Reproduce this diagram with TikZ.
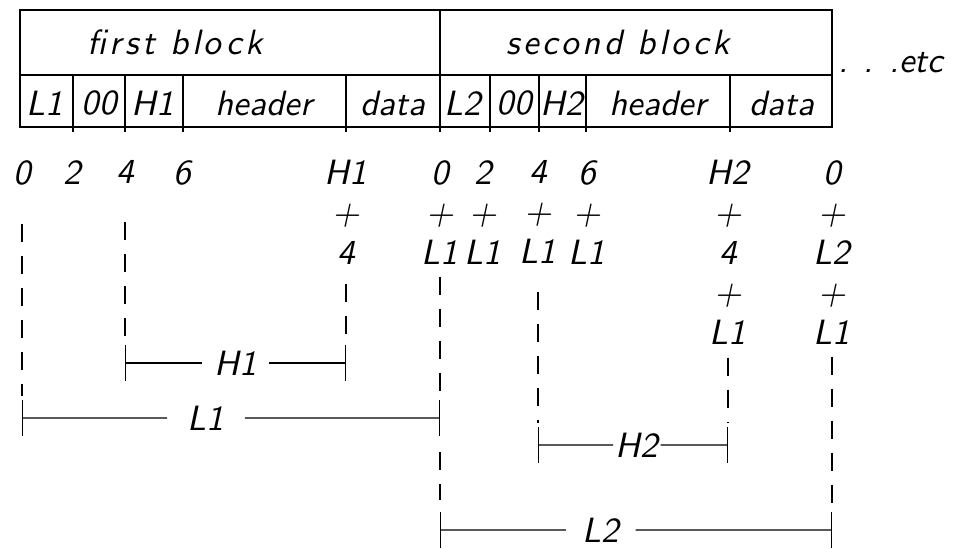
\documentclass[tikz,border=0pt]{standalone}
\usepackage{fontspec}
\usetikzlibrary{arrows.meta,calc}
\newfontfamily\cadfont{lmsans10-oblique.otf}
\newfontfamily\cadwide{lmsans10-oblique.otf}[LetterSpace=10]
\tikzset{
  lbl/.style={font=\fontsize{25}{28.45}\cadfont, inner sep=0pt},
  title/.style={lbl, font=\fontsize{25}{28.45}\cadwide},
  stack/.style={lbl, align=center, anchor=north},
  ext/.style={dash pattern=on 0.45cm off 0.35cm},
  dim/.style={{Bar[width=0.9cm]}-},
}
\begin{document}
\begin{tikzpicture}[line width=0.8pt]
    \useasboundingbox (0,0) rectangle (24.175,-13.7);
    \draw (0.5,-0.25) rectangle (20.8,-3.175);
    \draw (0.5,-1.875) -- (20.8,-1.875);
    \draw (11,-0.25) -- (11,-3.3);
    \foreach \x in {1.825,3.125,4.575,8.65,12.25,13.475,14.65,18.25}
        \draw (\x,-1.875) -- (\x,-3.3);
    \node[title] (blk1) at (4.375,-1.05) {first block};
    \node[title] (blk2) at (15.45,-1.05) {second block};
    \foreach \x/\name/\txt in {1.125/len1/L1, 2.475/pad1/00, 3.825/hdr1/H1, 6.6/head1/header, 9.825/data1/data,
                               11.575/len2/L2, 12.85/pad2/00, 14.05/hdr2/H2, 16.45/head2/header, 19.55/data2/data}
        \node[lbl] (\name) at (\x,-2.575) {\txt};
    \node[lbl, anchor=west] (etc) at (20.95,-1.575) {. . .etc};
    \foreach \x/\name/\txt in {0.55/p0/0, 1.8/p2/2, 3.125/p4/4, 4.55/p6/6, 8.65/pH1/{H1\\+\\4},
                               11/q0/{0\\+\\L1}, 12.075/q2/{2\\+\\L1}, 13.45/q4/{4\\+\\L1}, 14.675/q6/{6\\+\\L1},
                               18.2/qH2/{H2\\+\\4\\+\\L1}, 20.8/r0/{0\\+\\L2\\+\\L1}}
        \node[stack] (\name) at (\x,-4.0) {\txt};
    \coordinate (h1l) at (p4 |- 0,-9.075);
    \coordinate (h1r) at (pH1 |- 0,-9.075);
    \coordinate (l1l) at (p0 |- 0,-10.45);
    \coordinate (l1r) at (q0 |- 0,-10.45);
    \coordinate (h2l) at (q4 |- 0,-11.125);
    \coordinate (h2r) at (qH2 |- 0,-11.125);
    \coordinate (l2l) at (q0 |- 0,-13.25);
    \coordinate (l2r) at (r0 |- 0,-13.25);
    \node[lbl, inner xsep=.3cm] (dH1) at ($(h1l)!.5!(h1r)$) {H1};
    \node[lbl, inner xsep=.5cm] (dL1) at ($(l1l)!.44!(l1r)$) {L1};
    \node[lbl, inner xsep=.05cm] (dH2) at ($(h2l)!.52!(h2r)$) {H2};
    \node[lbl, inner xsep=.4cm] (dL2) at ($(l2l)!.41!(l2r)$) {L2};
    \foreach \a/\b/\m in {h1l/h1r/dH1, l1l/l1r/dL1, h2l/h2r/dH2, l2l/l2r/dL2} {
        \draw[dim] (\a) -- (\m);
        \draw[dim] (\b) -- (\m);
    }
    \draw[ext, shorten <=.95cm, shorten >=.55cm] (p0) -- (l1l);
    \draw[ext, shorten <=.95cm, shorten >=.55cm] (p4) -- (h1l);
    \draw[ext, shorten <=.45cm, shorten >=.55cm] (pH1) -- (h1r);
    \draw[ext, shorten <=.3cm, shorten >=.55cm] (q0) -- (l1r);
    \draw[ext, shorten <=.85cm, shorten >=.75cm] (l1r) -- (l2l);
    \draw[ext, shorten <=.7cm, shorten >=.55cm] (q4) -- (h2l);
    \draw[ext, shorten <=.3cm, shorten >=.55cm] (qH2) -- (h2r);
    \draw[ext, shorten <=.3cm, shorten >=.55cm] (r0) -- (l2r);
\end{tikzpicture}
\end{document}
